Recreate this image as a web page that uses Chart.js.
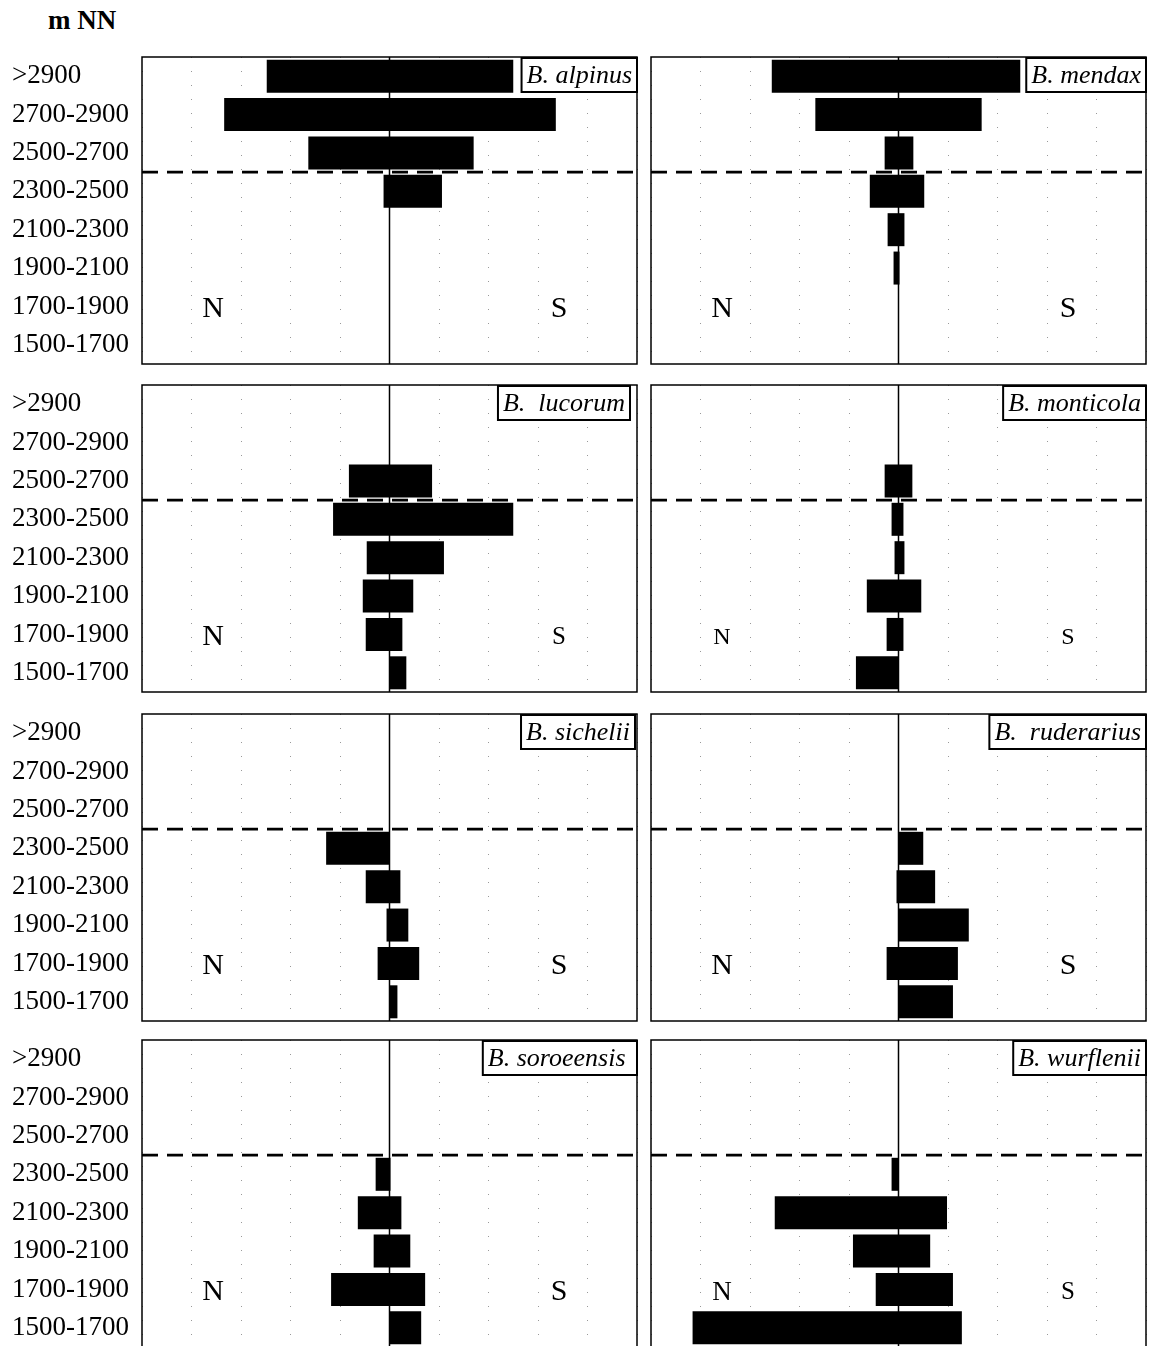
<!DOCTYPE html>
<html>
<head>
<meta charset="utf-8">
<script src="https://cdn.jsdelivr.net/npm/chart.js@4.4.1/dist/chart.umd.min.js"></script>
<style>
  html, body { margin:0; padding:0; background:#fff; overflow:hidden; width:1151px; height:1346px; }
  #unit { position:absolute; left:48px; top:5px; font:bold 27px "Liberation Serif", serif; color:#000; }
  canvas { position:absolute; }
</style>
</head>
<body>
<div id="unit">m NN</div>
<script>
/* altitude bands (m NN) */
const BANDS = ['>2900','2700-2900','2500-2700','2300-2500','2100-2300','1900-2100','1700-1900','1500-1700'];

// extent of each bar toward N (negative) and toward S (positive), one entry per band
const alpinusN    = [-12.4, -16.7, -8.2, -0.6, null, null, null, null];
const alpinusS    = [ 12.5,  16.8,  8.5,  5.3, null, null, null, null];
const mendaxN     = [-12.8, -8.4, -1.4, -2.9, -1.1, -0.5, null, null];
const mendaxS     = [ 12.3,  8.4,  1.5,  2.6,  0.6,  0.1, null, null];
const lucorumN    = [null, null, -4.1, -5.7, -2.3, -2.7, -2.4, 0];
const lucorumS    = [null, null,  4.3, 12.5,  5.5,  2.4,  1.3, 1.7];
const monticolaN  = [null, null, -1.4, -0.7, -0.4, -3.2, -1.2, -4.3];
const monticolaS  = [null, null,  1.4,  0.5,  0.6,  2.3,  0.5, 0];
const sicheliiN   = [null, null, null, -6.4, -2.4, -0.3, -1.2, 0];
const sicheliiS   = [null, null, null,  0,    1.1,  1.9,  3.0, 0.8];
const ruderariusN = [null, null, null,  0,   -0.2,  0,   -1.2, 0];
const ruderariusS = [null, null, null,  2.5,  3.7,  7.1,  6.0, 5.5];
const soroeensisN = [null, null, null, -1.4, -3.2, -1.6, -5.9, 0];
const soroeensisS = [null, null, null,  0.1,  1.2,  2.1,  3.6, 3.2];
const wurfleniiN  = [null, null, null, -0.7, -12.5, -4.6, -2.3, -20.8];
const wurfleniiS  = [null, null, null,  0,    4.9,   3.2,  5.5,  6.4];

const X_MIN = -25, X_MAX = 25, X_STEP = 5;

// layout of the 4x2 grid
const ROW_TOPS = [57, 385, 714, 1040];
const PANEL_H = 307;

const PANELS = [
  {name:'B. alpinus',    n:alpinusN,    s:alpinusS,    col:0, row:0, inset:0, nSize:30, sSize:30},
  {name:'B. mendax',     n:mendaxN,     s:mendaxS,     col:1, row:0, inset:0, nSize:30, sSize:30},
  {name:'B.  lucorum',   n:lucorumN,    s:lucorumS,    col:0, row:1, inset:7, nSize:30, sSize:25},
  {name:'B. monticola',  n:monticolaN,  s:monticolaS,  col:1, row:1, inset:0, nSize:24, sSize:24},
  {name:'B. sichelii',   n:sicheliiN,   s:sicheliiS,   col:0, row:2, inset:2, nSize:30, sSize:30},
  {name:'B.  ruderarius',n:ruderariusN, s:ruderariusS, col:1, row:2, inset:0, nSize:30, sSize:30},
  {name:'B. soroeensis ',n:soroeensisN, s:soroeensisS, col:0, row:3, inset:0, nSize:30, sSize:30},
  {name:'B. wurflenii',  n:wurfleniiN,  s:wurfleniiS,  col:1, row:3, inset:0, nSize:27, sSize:25}
];

const SERIF = '"Liberation Serif", "Times New Roman", serif';

// center line, tree-line dash, frame, species box and N/S marks
const panelDeco = {
  id: 'panelDeco',
  beforeDatasetsDraw(chart){
    const {ctx, chartArea:a, scales:{x}} = chart;
    const cx = x.getPixelForValue(0);
    ctx.save();
    ctx.strokeStyle = '#000'; ctx.lineWidth = 1.5;
    ctx.beginPath(); ctx.moveTo(cx, a.top); ctx.lineTo(cx, a.bottom); ctx.stroke();
    ctx.restore();
  },
  afterDatasetsDraw(chart, args, o){
    const {ctx, chartArea:a, scales:{y}} = chart;
    ctx.save();
    // dashed line between 2500-2700 and 2300-2500
    const yb = (y.getPixelForValue(2) + y.getPixelForValue(3)) / 2;
    ctx.strokeStyle = '#000';
    ctx.setLineDash([16, 9]); ctx.lineWidth = 2.6;
    ctx.beginPath(); ctx.moveTo(a.left, yb); ctx.lineTo(a.right, yb); ctx.stroke();
    ctx.setLineDash([]);
    ctx.lineWidth = 1.5;
    ctx.strokeRect(a.left, a.top, a.right - a.left, a.bottom - a.top);

    // species label box
    ctx.font = 'italic 26px ' + SERIF;
    const tw = ctx.measureText(o.name).width;
    const bw = tw + 10, bh = 34;
    const bx = a.right - o.inset - bw;
    ctx.fillStyle = '#fff';
    ctx.fillRect(bx, a.top + 1, bw, bh);
    ctx.lineWidth = 2;
    ctx.strokeRect(bx, a.top + 1, bw, bh);
    ctx.fillStyle = '#000';
    ctx.textAlign = 'left'; ctx.textBaseline = 'middle';
    ctx.fillText(o.name, bx + 5, a.top + 1 + bh/2 + 1);

    // N / S
    const yl = y.getPixelForValue(6) + 3;
    ctx.textAlign = 'center';
    ctx.font = o.nSize + 'px ' + SERIF;
    ctx.fillText('N', a.left + 71, yl);
    ctx.font = o.sSize + 'px ' + SERIF;
    ctx.fillText('S', a.right - 78, yl);
    ctx.restore();
  }
};

function makePanel(p){
  const left = p.col === 0;
  const cv = document.createElement('canvas');
  const w = left ? 650 : 506;
  cv.width = w; cv.height = PANEL_H + 40;
  cv.style.left = (left ? 0 : 645) + 'px';
  cv.style.top = (ROW_TOPS[p.row] - 20) + 'px';
  document.body.appendChild(cv);

  const data = BANDS.map((b, i) => p.n[i] == null ? null : [p.n[i], p.s[i]]);

  new Chart(cv, {
    type: 'bar',
    data: { labels: BANDS, datasets: [{
      data,
      backgroundColor: '#000',
      borderWidth: 0,
      barPercentage: 0.86,
      categoryPercentage: 1
    }]},
    plugins: [panelDeco],
    options: {
      indexAxis: 'y',
      responsive: false,
      animation: false,
      events: [],
      layout: { padding: left ? {left:12, right:13, top:20, bottom:20} : {left:6, right:5, top:20, bottom:20} },
      plugins: {
        legend: { display:false },
        tooltip: { enabled:false },
        panelDeco: { name:p.name, inset:p.inset, nSize:p.nSize, sSize:p.sSize }
      },
      scales: {
        x: {
          min: X_MIN, max: X_MAX,
          ticks: { display:false, stepSize:X_STEP },
          grid: { color:'rgba(0,0,0,0.4)', lineWidth:1, drawTicks:false },
          border: { display:false, dash:[1, 13] },
          afterFit: s => { s.height = 0; }
        },
        y: {
          display: left,
          grid: { display:false, drawTicks:false },
          border: { display:false },
          ticks: { color:'#000', font:{ family:SERIF, size:27 }, crossAlign:'far', padding:0, autoSkip:false },
          afterFit: s => { s.width = left ? 130 : 0; }
        }
      }
    }
  });
}

PANELS.forEach(makePanel);
</script>
</body>
</html>
